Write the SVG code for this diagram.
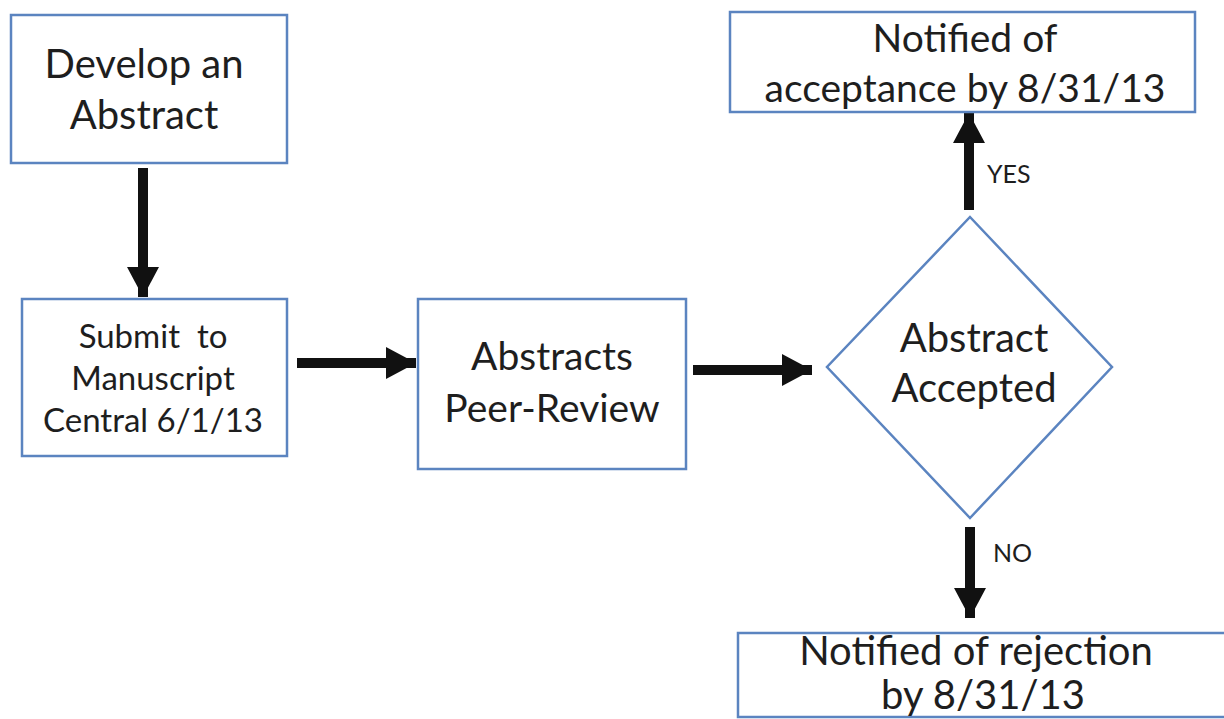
<svg xmlns="http://www.w3.org/2000/svg" width="1224" height="719" viewBox="0 0 1224 719">
<defs>
<style>
.box{fill:#fff;stroke:#5b84c0;stroke-width:2.5}
.t{font-family:Lato,"Open Sans","Liberation Sans",sans-serif;fill:#1e1e1e;text-anchor:middle}
.lbl{font-family:Lato,"Open Sans","Liberation Sans",sans-serif;fill:#1e1e1e;font-size:25px}
.arr{stroke:#111;stroke-width:10;fill:none;marker-end:url(#ah)}
</style>
<marker id="ah" markerUnits="userSpaceOnUse" markerWidth="32" markerHeight="34" refX="30" refY="17" orient="auto" viewBox="0 0 32 34">
<path d="M0,1 L30,17 L0,33 Z" fill="#111"/>
</marker>
</defs>
<rect width="1224" height="719" fill="#fff"/>
<g id="connectors">
<line class="arr" x1="143" y1="168" x2="143" y2="297"/>
<line class="arr" x1="297" y1="363" x2="416" y2="363"/>
<line class="arr" x1="693" y1="370" x2="812" y2="370"/>
<line class="arr" x1="969" y1="210" x2="969" y2="113"/>
<line class="arr" x1="970" y1="527" x2="970" y2="618"/>
<text class="lbl" x="987" y="183">YES</text>
<text class="lbl" x="993" y="562">NO</text>
</g>
<g id="develop">
<rect class="box" x="11" y="15" width="276" height="148"/>
<text class="t" font-size="40" x="144" y="78">Develop an</text>
<text class="t" font-size="40" x="144" y="129">Abstract</text>
</g>
<g id="submit">
<rect class="box" x="22" y="299" width="265" height="157"/>
<text class="t" font-size="33" x="153" y="348">Submit&#160; to</text>
<text class="t" font-size="33" x="153" y="390">Manuscript</text>
<text class="t" font-size="33" x="153" y="432">Central 6/1/13</text>
</g>
<g id="peer">
<rect class="box" x="418" y="299" width="268" height="170"/>
<text class="t" font-size="39" x="552" y="370">Abstracts</text>
<text class="t" font-size="39" x="552" y="422">Peer-Review</text>
</g>
<g id="decision">
<polygon class="box" points="970,217 1112,367 970,518 827,367"/>
<text class="t" font-size="40" x="974" y="352">Abstract</text>
<text class="t" font-size="40" x="974" y="402">Accepted</text>
</g>
<g id="accept">
<rect class="box" x="730" y="12" width="465" height="100"/>
<text class="t" font-size="39" x="965" y="52">Notified of</text>
<text class="t" font-size="39" x="965" y="102">acceptance by 8/31/13</text>
</g>
<g id="reject">
<rect class="box" x="738" y="633" width="495" height="84"/>
<text class="t" font-size="40" x="976" y="665">Notified of rejection</text>
<text class="t" font-size="40" x="983" y="709">by 8/31/13</text>
</g>
</svg>
